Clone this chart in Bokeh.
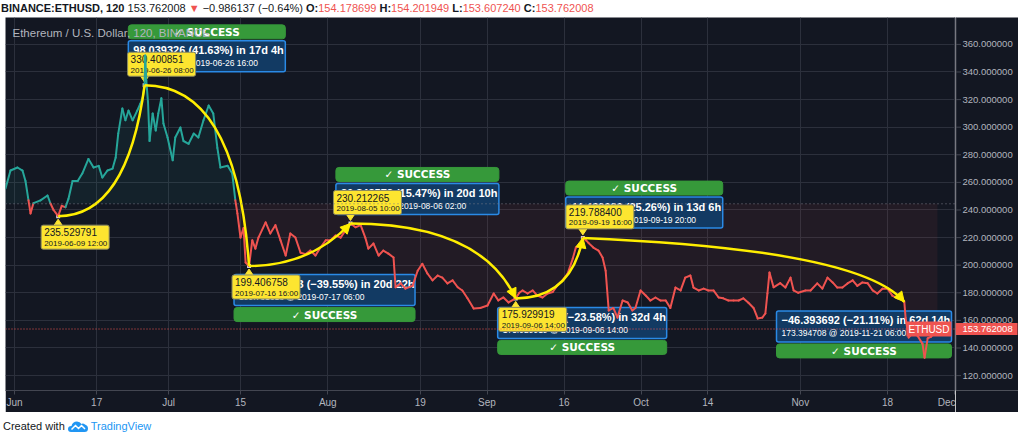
import numpy as np
from bokeh.plotting import figure
from bokeh.models import (Range1d, FixedTicker, Span, Label, Div, ColumnDataSource)
from bokeh.layouts import column, row
from bokeh.embed import file_html
from bokeh.resources import INLINE
from bokeh.core.properties import value

# ---------------- data ----------------
# days since 2019-06-01 00:00 (2h chart) and ETHUSD close
day = [-1.75, -0.78, 0.58, 1.56, 2.14, 2.73, 3.12, 3.70, 5.06, 6.43, 7.01, 7.6, 8.5, 9.2, 9.93,
       10.5, 11.3, 12.3, 13.2, 14.4, 15.4, 16.4, 17.1, 18.1, 19.1, 19.7, 20.2, 21.0, 21.6, 22.2,
       23.0, 23.9, 24.5, 25.0, 25.33, 25.45, 25.67, 26.0, 26.3, 26.9, 27.5, 28.0, 28.6, 29.0, 29.8,
       30.8, 31.3, 32.3, 32.9, 33.9, 34.9, 35.8, 36.8, 37.8, 38.7, 39.5, 40.1, 41.5, 42.4, 43.0,
       43.4, 44.0, 44.6, 45.0, 45.67, 46.3, 46.9, 47.5, 48.9, 49.8, 50.8, 51.8, 52.8, 53.7, 54.7,
       55.7, 56.7, 57.6, 58.6, 59.6, 60.6, 61.5, 62.5, 63.5, 64.4, 65.42, 66.4, 67.4, 68.3, 68.9,
       69.9, 70.9, 71.8, 72.8, 73.8, 74.2, 75.2, 76.1, 77.5, 78.5, 79.4, 80.4, 81.4, 82.4, 83.3,
       84.3, 85.3, 86.3, 87.2, 88.2, 89.4, 90.7, 92.1, 93.3, 94.2, 95.2, 96.2, 97.58, 98.3, 98.9,
       99.9, 100.9, 101.8, 102.8, 103.8, 104.8, 105.7, 106.7, 107.7, 108.7, 109.3, 110.2, 110.67,
       111.3, 111.8, 112.7, 113.7, 114.5, 115.1, 115.7, 116.6, 117.4, 118.4, 119.4, 120.3, 120.9,
       121.9, 122.9, 123.8, 124.8, 125.8, 126.8, 127.7, 128.7, 129.7, 130.6, 131.6, 132.2, 133.2,
       134.2, 135.1, 136.1, 137.1, 138.0, 139.0, 140.0, 141.0, 141.9, 142.9, 143.9, 144.7, 145.6,
       146.2, 146.6, 147.0, 147.8, 149.1, 150.1, 151.1, 151.7, 152.6, 154.0, 155.0, 156.3, 157.3,
       158.3, 159.3, 160.2, 161.2, 162.2, 163.2, 164.1, 165.1, 166.1, 167.1, 168.0, 169.0, 170.0,
       170.9, 171.9, 172.5, 173.25, 173.5, 174.1, 174.8, 175.8, 176.8, 177.2, 177.8, 178.4, 179.0,
       179.7]
price = [255.6, 268.6, 270.8, 268.6, 261.0, 247.0, 237.5, 245.0, 247.0, 250.5, 244.7, 240.0, 235.53,
         243.0, 242.0, 248.0, 261.0, 261.0, 266.4, 277.0, 270.8, 272.0, 263.5, 268.6, 270.0, 278.0,
         295.4, 313.5, 305.0, 312.0, 305.0, 312.0, 317.0, 322.0, 330.4, 352.0, 333.57, 318.0, 290.0,
         310.0, 297.6, 310.0, 321.0, 302.7, 292.5, 276.0, 292.5, 299.8, 290.0, 288.0, 295.4, 292.5,
         305.0, 315.7, 310.0, 285.0, 270.8, 272.0, 266.4, 247.0, 237.5, 220.0, 227.0, 202.0, 199.41,
         218.0, 212.0, 220.0, 231.0, 223.0, 229.0, 218.0, 207.0, 223.0, 220.0, 209.0, 208.0, 210.6,
         207.0, 213.0, 218.0, 218.0, 221.5, 220.0, 225.0, 230.21, 227.5, 229.0, 220.0, 212.0, 215.7,
         207.0, 210.6, 208.4, 205.6, 184.0, 186.8, 183.0, 185.0, 196.0, 201.0, 194.0, 189.0, 192.5,
         191.0, 186.8, 189.0, 184.0, 181.7, 176.0, 168.6, 169.0, 170.8, 179.5, 174.5, 176.6, 173.0,
         175.93, 180.0, 181.7, 179.5, 181.7, 178.0, 176.6, 179.5, 180.6, 185.3, 189.0, 194.0, 204.8,
         212.8, 214.0, 219.79, 218.0, 216.0, 212.8, 210.6, 205.6, 196.0, 167.2, 169.0, 162.0, 174.4,
         173.0, 167.2, 169.0, 181.7, 178.0, 174.4, 176.6, 174.4, 174.4, 169.0, 183.8, 181.7, 191.0,
         192.5, 183.8, 181.7, 183.0, 181.7, 181.7, 176.6, 176.0, 174.4, 174.4, 174.4, 176.0, 172.8,
         169.0, 161.4, 162.0, 165.0, 179.5, 194.7, 184.0, 187.0, 183.8, 191.0, 181.7, 180.0, 181.7,
         181.7, 186.8, 183.0, 191.0, 187.5, 183.8, 183.8, 186.8, 189.0, 185.0, 187.5, 187.0, 181.7,
         179.5, 183.0, 183.0, 178.0, 176.0, 177.0, 173.39, 162.0, 147.6, 150.4, 149.0, 143.0, 133.0,
         147.0, 148.0, 150.4, 153.76]

tick_days = [0, 16, 30, 44, 61, 79, 92, 107, 122, 135, 153, 170, 183]
tick_labels = ["Jun", "17", "Jul", "15", "Aug", "19", "Sep", "16", "Oct", "14", "Nov", "18", "Dec"]
price_ticks = [120, 140, 160, 180, 200, 220, 240, 260, 280, 300, 320, 340, 360]

baseline_price = 244.5
last_price = 153.762008
symbol = "ETHUSD"
legend_title = "Ethereum / U.S. Dollar, 120, BINANCE"

# pivot labels (yellow)
pivot_day = [8.5, 25.333, 45.667, 65.417, 97.583, 110.667]
pivot_price = [235.529791, 330.400851, 199.406758, 230.212265, 175.929919, 219.788400]
pivot_text = ["235.529791", "330.400851", "199.406758", "230.212265", "175.929919", "219.788400"]
pivot_date = ["2019-06-09 12:00", "2019-06-26 08:00", "2019-07-16 16:00",
              "2019-08-05 10:00", "2019-09-06 14:00", "2019-09-19 16:00"]

# date & price range measurements (blue boxes)
range_change = ["98.039326 (41.63%) in 17d 4h", "\u2212130.669233 (\u221239.55%) in 20d 22h",
                "30.848573 (15.47%) in 20d 10h", "\u221254.282346 (\u221223.58%) in 32d 4h",
                "44.439620 (25.26%) in 13d 6h", "\u221246.393692 (\u221221.11%) in 62d 14h"]
range_end_text = ["333.569117 @ 2019-06-26  16:00", "199.731618 @ 2019-07-17  06:00",
                  "230.255331 @ 2019-08-06  02:00", "175.929919 @ 2019-09-06  14:00",
                  "220.369539 @ 2019-09-19  20:00", "173.394708 @ 2019-11-21  06:00"]
range_end_day = [25.667, 46.25, 66.083, 97.583, 110.833, 173.25]
range_end_price = [333.569117, 199.731618, 230.255331, 175.929919, 220.369539, 173.394708]
range_status = ["\u2713 SUCCESS"] * 6

# ---------------- layout / style ----------------
BG = "#131722"
TEAL = "#26a69a"
RED = "#ef5350"
YEL = "#ffee00"
AXC = "#434651"
GRID = "#2c303c"
LBL = "#b2b5be"
FIG_H = 395
FRAME_W, FRAME_H = 950, 373
AXIS_W = 63
BOTTOM = 22
X_LO, X_HI = -1.752, 183.22
Y_LO, Y_HI = 109.2, 379.49
SX = (X_HI - X_LO) / FRAME_W
SY = (Y_HI - Y_LO) / FRAME_H
FONT = value("Liberation Sans")


def to_px(x, y):
    return (x - X_LO) / SX, (Y_HI - y) / SY


def to_data(px, py):
    return X_LO + px * SX, Y_HI - py * SY


p = figure(width=FRAME_W, height=FIG_H, x_range=Range1d(X_LO, X_HI), y_range=Range1d(Y_LO, Y_HI),
           y_axis_location=None, output_backend="svg", toolbar_location=None,
           min_border_left=0, min_border_top=0, min_border_right=0, min_border_bottom=BOTTOM,
           background_fill_color=BG, border_fill_color=BG, outline_line_color=None)

p.xaxis.ticker = FixedTicker(ticks=tick_days)
p.xaxis.major_label_overrides = {d: l for d, l in zip(tick_days, tick_labels)}
p.xaxis.axis_line_color = AXC
p.xaxis.major_tick_line_color = AXC
p.xaxis.minor_tick_line_color = None
p.xaxis.major_label_text_color = LBL
p.xaxis.major_label_text_font = "Liberation Sans"
p.xaxis.major_tick_in = 0
p.xaxis.major_tick_out = 4
p.xaxis.major_label_standoff = 2
p.xaxis.major_label_text_font_size = "10px"
p.xgrid.ticker = FixedTicker(ticks=tick_days)
p.ygrid.ticker = FixedTicker(ticks=price_ticks)
p.xgrid.grid_line_color = GRID
p.ygrid.grid_line_color = GRID

# baseline fills
d_arr = np.array(day)
p_arr = np.array(price)
base = np.full_like(p_arr, baseline_price)
p.varea(x=d_arr, y1=base, y2=np.maximum(p_arr, base), fill_color=TEAL, fill_alpha=0.08)
p.varea(x=d_arr, y1=base, y2=np.minimum(p_arr, base), fill_color=RED, fill_alpha=0.07)

p.add_layout(Span(location=baseline_price, dimension="width", line_color="#787b86",
                  line_dash="1 3", line_width=1))
p.add_layout(Span(location=last_price, dimension="width", line_color=RED,
                  line_dash="1 2", line_width=1))

# ---- blue range boxes + green status bars
BOX_W = [157, 181, 163, 169, 157, 175]
bl, br, bt, bb, gl, gr, gt, gb = [], [], [], [], [], [], [], []
t1x, t1y, t2y, gcx, gcy = [], [], [], [], []
for i in range(len(range_change)):
    ex, ey = to_px(range_end_day[i], range_end_price[i])
    w = BOX_W[i]
    left = ex - 18
    if left + w > FRAME_W - 4:
        left = FRAME_W - 4 - w
    rising = not range_change[i].startswith("\u2212")
    top = ey - 40 if rising else ey + 9
    bot = top + 31
    if rising:
        g_top, g_bot = top - 16, top - 2
    else:
        g_top, g_bot = bot + 2, bot + 16
    x0, y0 = to_data(left, top)
    x1, y1 = to_data(left + w, bot)
    bl.append(x0); br.append(x1); bt.append(y0); bb.append(y1)
    _, gy0 = to_data(0, g_top)
    _, gy1 = to_data(0, g_bot)
    gl.append(x0); gr.append(x1); gt.append(gy0); gb.append(gy1)
    t1x.append(to_data(left + 5, 0)[0])
    t1y.append(to_data(0, top + 9.5)[1])
    t2y.append(to_data(0, top + 22.5)[1])
    gcx.append((x0 + x1) / 2)
    gcy.append((gy0 + gy1) / 2)

p.quad(left=gl, right=gr, top=gt, bottom=gb, fill_color="#36993a", line_color="#36993a",
       line_width=1, border_radius=3)
p.quad(left=bl, right=br, top=bt, bottom=bb, fill_color="#123a63", line_color="#2a8ae6",
       line_width=1.5, border_radius=2)
p.text(x=t1x, y=t1y, text=range_change, text_color="white", text_font=FONT,
       text_font_size="11px", text_font_style="bold", text_baseline="middle")
p.text(x=t1x, y=t2y, text=range_end_text, text_color="white", text_font=FONT,
       text_font_size="8.5px", text_baseline="middle")
p.text(x=gcx, y=gcy, text=range_status, text_color="white", text_font=value("DejaVu Sans"),
       text_font_size="10.5px", text_font_style="bold", text_baseline="middle", text_align="center")

# ---- yellow pivot labels
yl, yr, yt, yb, ytx, yt1, yt2, tri_x, tri_y = [], [], [], [], [], [], [], [], []
n = len(pivot_day)
for j in range(n):
    px, py = to_px(pivot_day[j], pivot_price[j])
    nb = pivot_price[j + 1] if j + 1 < n else pivot_price[j - 1]
    peak = pivot_price[j] > nb
    cx = px + 17
    cy = py - 21 if peak else py + 21
    x0, y0 = to_data(cx - 34, cy - 12)
    x1, y1 = to_data(cx + 34, cy + 12)
    yl.append(x0); yr.append(x1); yt.append(y0); yb.append(y1)
    ytx.append(to_data(cx - 31, 0)[0])
    yt1.append(to_data(0, cy - 5)[1])
    yt2.append(to_data(0, cy + 6)[1])
    edge = cy + 12 if peak else cy - 12
    tip = py - 3 if peak else py + 3
    pts = [to_data(px - 4, edge), to_data(px + 4, edge), to_data(px, tip)]
    tri_x.append([q[0] for q in pts]); tri_y.append([q[1] for q in pts])

p.patches(xs=tri_x, ys=tri_y, fill_color="#fde530", line_color="#fde530")
p.quad(left=yl, right=yr, top=yt, bottom=yb, fill_color="#fde530", line_color="#8c8a60",
       line_width=1, border_radius=2)
p.text(x=ytx, y=yt1, text=pivot_text, text_color="#131722", text_font=FONT,
       text_font_size="10px", text_baseline="middle")
p.text(x=ytx, y=yt2, text=pivot_date, text_color="#131722", text_font=FONT,
       text_font_size="8px", text_baseline="middle")
p.scatter(x=pivot_day, y=pivot_price, size=4, marker="square", fill_color="#d1d4dc",
          line_color=None)

# ---- price line (baseline style colouring)
seg_col = [TEAL if (a + b) / 2 >= baseline_price else RED for a, b in zip(price[:-1], price[1:])]
seg = ColumnDataSource(dict(x0=day[:-1], x1=day[1:], y0=price[:-1], y1=price[1:], c=seg_col))
p.segment(x0="x0", y0="y0", x1="x1", y1="y1", color="c", line_width=2, line_cap="round",
          source=seg)

# ---- yellow curves between pivots
ax_pts = list(zip(pivot_day, pivot_price)) + [(range_end_day[-1], range_end_price[-1])]
ARC_K = [(0.8, 0.0), (0.88, 0.0), (0.6, 0.0), (0.79, 0.0), (0.82, 0.0), (0.865, 0.18)]
ARROW = [False, False, True, True, True, True]
qx0, qy0, qx1, qy1, qcx, qcy, ahx, ahy = [], [], [], [], [], [], [], []
for k in range(len(ARC_K)):
    sx_, sy_ = to_px(*ax_pts[k])
    ex_, ey_ = to_px(*ax_pts[k + 1])
    cxp = sx_ + ARC_K[k][0] * (ex_ - sx_)
    cyp = sy_ + ARC_K[k][1] * (ey_ - sy_)
    a = to_data(sx_, sy_); b = to_data(ex_, ey_); c = to_data(cxp, cyp)
    qx0.append(a[0]); qy0.append(a[1]); qx1.append(b[0]); qy1.append(b[1])
    qcx.append(c[0]); qcy.append(c[1])
    if ARROW[k]:
        ux, uy = ex_ - cxp, ey_ - cyp
        L = (ux ** 2 + uy ** 2) ** 0.5
        ux, uy = ux / L, uy / L
        bx, by = ex_ - 10 * ux, ey_ - 10 * uy
        nx, ny = -uy, ux
        pts = [to_data(ex_, ey_), to_data(bx + 5 * nx, by + 5 * ny), to_data(bx - 5 * nx, by - 5 * ny)]
        ahx.append([q[0] for q in pts]); ahy.append([q[1] for q in pts])
p.quadratic(x0=qx0, y0=qy0, x1=qx1, y1=qy1, cx=qcx, cy=qcy, line_color=YEL, line_width=2.5)
p.patches(xs=ahx, ys=ahy, fill_color=YEL, line_color=YEL)

# ---- title inside chart
tx, ty = to_data(7, 15)
p.text(x=[tx], y=[ty], text=[legend_title], text_color=LBL, text_font=FONT,
       text_font_size="11.5px", text_baseline="middle")

# ---- symbol tag at last price
p.add_layout(Label(x=X_HI, y=last_price, x_offset=-4, text=symbol, text_align="right",
                   text_baseline="middle", text_color="white", text_font="Liberation Sans",
                   text_font_size="10px", background_fill_color=RED, padding=2))

# ---------------- price scale (separate narrow panel, same price mapping) ----------------
pa = figure(width=AXIS_W, height=FIG_H, x_range=Range1d(0, AXIS_W), y_range=Range1d(Y_LO, Y_HI),
            x_axis_location=None, y_axis_location=None, output_backend="svg",
            toolbar_location=None, min_border_left=0, min_border_top=0, min_border_right=0,
            min_border_bottom=BOTTOM, background_fill_color=BG, border_fill_color=BG,
            outline_line_color=None)
pa.xgrid.visible = False
pa.ygrid.visible = False
pa.segment(x0=[0.5], y0=[Y_LO], x1=[0.5], y1=[Y_HI], line_color=AXC, line_width=1)
pa.segment(x0=[0.5] * len(price_ticks), y0=price_ticks, x1=[5.5] * len(price_ticks),
           y1=price_ticks, line_color=AXC, line_width=1)
pa.text(x=[7] * len(price_ticks), y=price_ticks, text=[f"{t:.6f}" for t in price_ticks],
        text_color=LBL, text_font=FONT, text_font_size="9.5px", text_baseline="middle")
pa.quad(left=[0], right=[AXIS_W - 1], top=[last_price + 6 * SY], bottom=[last_price - 6 * SY],
        fill_color=RED, line_color=None)
pa.text(x=[7], y=[last_price], text=[f"{last_price:.6f}"], text_color="white", text_font=FONT,
        text_font_size="9.5px", text_baseline="middle")

header_html = (
    '<div style="padding-top:2px;padding-left:1px;white-space:nowrap;'
    'font-family:\'Liberation Sans\',Arial,sans-serif;font-size:11px;line-height:13px;color:#131722">'
    '<b>BINANCE:ETHUSD, 120</b> 153.762008 <span style="color:#ef5350">\u25bc</span> '
    '\u22120.986137 (\u22120.64%) '
    '<b>O:</b><span style="color:#ef5350">154.178699</span> '
    '<b>H:</b><span style="color:#ef5350">154.201949</span> '
    '<b>L:</b><span style="color:#ef5350">153.607240</span> '
    '<b>C:</b><span style="color:#ef5350">153.762008</span></div>')
footer_html = (
    '<div style="padding-top:8px;padding-left:3px;white-space:nowrap;'
    'font-family:\'Liberation Sans\',Arial,sans-serif;font-size:11px;line-height:13px;color:#131722">'
    'Created with <svg width="20" height="12" viewBox="0 0 20 12" style="vertical-align:-2px">'
    '<path d="M3 12 Q0 12 0 9 Q0 6 3.5 6 Q4.5 1.5 9 1.5 Q12 1.5 13.5 4 Q15 3 17 4.5 '
    'Q20 5.5 20 8.5 Q20 12 16.5 12 Z" fill="#2196f3"/>'
    '<path d="M3.5 9.5 L7.5 5.5 L10.5 8.5 L13.5 5.5 L17 9" stroke="white" stroke-width="1.5" '
    'fill="none"/></svg> '
    '<span style="color:#2196f3">TradingView</span></div>')

header = Div(text=header_html, width=1024, height=17, margin=(0, 0, 0, 0))
footer = Div(text=footer_html, width=1024, height=29, margin=(0, 0, 0, 0))
pad_l = Div(text="", width=5, height=FIG_H, margin=(0, 0, 0, 0))
pad_r = Div(text="", width=6, height=FIG_H, margin=(0, 0, 0, 0))
layout = column(header, row(pad_l, p, pa, pad_r, spacing=0), footer, spacing=0)

open("out.html", "w").write(file_html(layout, INLINE))
